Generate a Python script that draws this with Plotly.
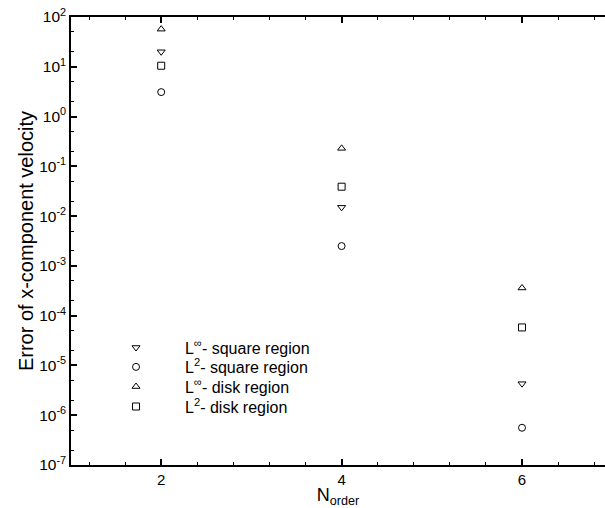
import plotly.graph_objects as go

orders = [2, 4, 6]
linf_square = [20.0, 0.015, 4.3e-6]
l2_square = [3.1, 0.0025, 5.6e-7]
linf_disk = [57.0, 0.23, 3.6e-4]
l2_disk = [10.5, 0.039, 5.8e-5]

series = [
    ("L<sup>∞</sup>- square region", linf_square, "triangle-down-open"),
    ("L<sup>2</sup>- square region", l2_square, "circle-open"),
    ("L<sup>∞</sup>- disk region", linf_disk, "triangle-up-open"),
    ("L<sup>2</sup>- disk region", l2_disk, "square-open"),
]

y_exps = list(range(-7, 3))
y_tickvals = [10.0 ** e for e in y_exps]
y_ticktext = [f"10<sup>{e}</sup>" for e in y_exps]

font = "Liberation Sans, Arial, sans-serif"
legend_ids = ["legend", "legend2", "legend3", "legend4"]
legend_tops = [0.300, 0.2567, 0.2129, 0.1683]

fig = go.Figure()
for (name, vals, sym), lid in zip(series, legend_ids):
    fig.add_trace(go.Scatter(
        x=orders, y=vals, mode="markers", name=name, legend=lid,
        marker=dict(symbol=sym, size=7, color="black", line=dict(color="black", width=1)),
    ))

legend_layouts = {}
for lid, top in zip(legend_ids, legend_tops):
    legend_layouts[lid] = dict(x=0.03, y=top, xanchor="left", yanchor="top",
                               bgcolor="rgba(0,0,0,0)", font=dict(size=16, family=font),
                               itemwidth=88)

fig.update_layout(
    width=605, height=508,
    margin=dict(l=71, r=0, t=17, b=43),
    paper_bgcolor="white", plot_bgcolor="white",
    font=dict(family=font, color="black", size=14),
    showlegend=True,
    **legend_layouts,
    xaxis=dict(
        range=[1.0, 6.92], tickvals=orders, ticktext=[str(o) for o in orders],
        ticks="inside", ticklen=6, tickwidth=1.5, tickcolor="black",
        showline=True, linecolor="black", linewidth=1.5, mirror="ticks",
        showgrid=False, zeroline=False,
        minor=dict(ticks="inside", ticklen=3, tickwidth=1, tickcolor="black", dtick=0.4, tick0=0.0, showgrid=False),
        title=dict(text="N<sub>order</sub>", font=dict(size=18), standoff=2),
        tickfont=dict(size=15),
    ),
    yaxis=dict(
        type="log", range=[-7, 2], tickvals=y_tickvals, ticktext=y_ticktext,
        ticks="inside", ticklen=6, tickwidth=1.5, tickcolor="black",
        showline=True, linecolor="black", linewidth=1.5, mirror=False,
        showgrid=False, zeroline=False,
        minor=dict(ticks="inside", ticklen=3, tickwidth=1, tickcolor="black", showgrid=False),
        title=dict(text="Error of x-component velocity", font=dict(size=20), standoff=0),
        tickfont=dict(size=15.5),
    ),
)

fig.write_html("out.html")
